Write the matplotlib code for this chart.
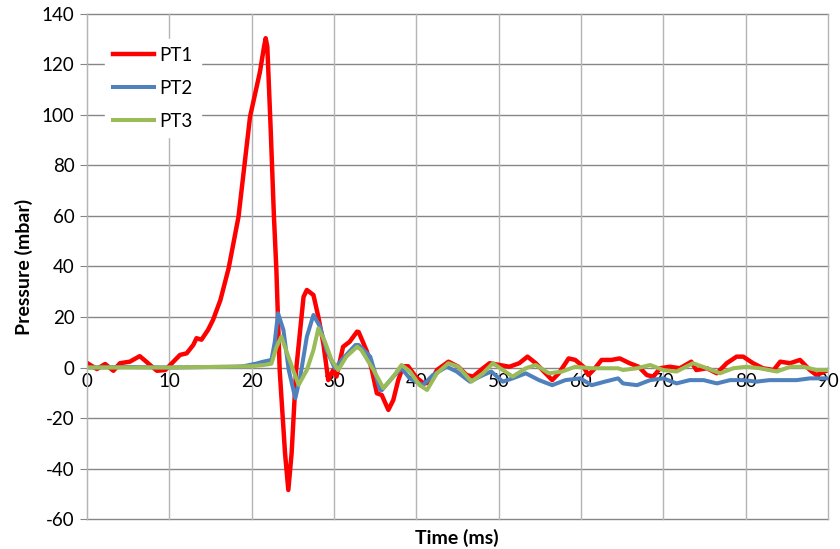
import numpy as np
import matplotlib
matplotlib.use('Agg')
import matplotlib.pyplot as plt

plt.rcParams['font.family'] = ['Lato', 'DejaVu Sans']
plt.rcParams['axes.unicode_minus'] = False

# PT1 (red) - time in ms, pressure in mbar
t1 = [0, 1.2, 2.2, 3.2, 4.0, 5.2, 6.4, 7.2, 7.9, 8.5, 9.5, 10.1, 11.3, 12.1,
      12.9, 13.3, 13.9, 14.7, 15.3, 16.2, 17.2, 18.4, 19.8, 21.0, 21.5, 21.7,
      21.9, 22.3, 22.7, 23.0, 23.4, 24.05, 24.45, 24.85, 25.4, 26.3, 26.7,
      27.5, 28.1, 28.7, 29.3, 29.9, 30.3, 31.1, 31.9, 32.8, 33.0, 34.0, 34.6,
      35.2, 35.8, 36.6, 37.2, 37.8, 38.4, 39.0, 40.0, 40.9, 41.7, 42.5, 43.9,
      45.1, 46.1, 46.9, 48.1, 48.9, 50.1, 51.3, 52.5, 53.5, 54.5, 55.7, 56.5,
      57.3, 58.5, 59.3, 60.3, 60.9, 61.7, 62.5, 63.7, 64.7, 65.9, 67.0, 68.0,
      68.8, 69.6, 70.8, 72.0, 73.4, 74.0, 75.3, 76.5, 77.7, 78.9, 79.7, 80.9,
      82.1, 83.4, 84.2, 85.4, 86.6, 87.8, 88.6, 90]
p1 = [1.8, -0.6, 1.4, -1.3, 1.7, 2.3, 4.5, 2.3, 0.3, -1.3, -1.0, 1.0, 5.0, 5.6,
      8.9, 11.6, 11.0, 14.9, 18.8, 26.7, 39.3, 59.7, 99.3, 117, 127, 130.4,
      127, 95, 60, 38.6, -1, -33.9, -48.5, -34, -1, 28, 30.7,
      28.7, 20, 9.6, -5, -1, -3.6, 8.2, 10.2, 14.2, 14, 6.3, -1,
      -10.2, -10.9, -16.8, -12.9, -5, 0.5, 0.5, -4, -6.3, -6, -1, 2.3,
      0.3, -3, -3.6, -0.3, 1.7, 1.0, 0.3, 1.7, 4.3, 1.7, -2.3, -5,
      -2.3, 3.6, 3.0, 0.3, -3, -0.3, 3, 3, 3.6, 1.7, 0.3, -3,
      -3.6, -0.3, 0.3, -0.3, 2.3, -1, -0.3, -2.3, 1.7, 4.3, 4.3, 1.7,
      -0.3, -1, 2.3, 1.7, 3, -1, -3, -1]

# PT2 (blue)
t2 = [0, 5, 10, 15, 18, 19, 20.5, 21.4, 22.4, 22.8, 23.2, 23.85, 24.5, 25.3,
      25.9, 26.7, 27.5, 28.3, 29.1, 30.1, 31.1, 32.6, 33.0, 34.4, 35.6, 35.8,
      37.2, 38.2, 39.2, 40.5, 40.8, 42.0, 43.7, 44.9, 46.5, 48.1, 49.1, 50.5,
      51.7, 53.3, 54.9, 56.5, 58.1, 59.9, 61.3, 62.9, 64.5, 65.1, 66.8, 68.4,
      70.0, 71.6, 73.2, 74.9, 76.5, 78.1, 79.7, 81.3, 82.9, 84.6, 86.2, 87.8, 90]
p2 = [0, 0.2, 0, 0.2, 0.3, 0.5, 1.5, 2.3, 3, 10, 21.5, 14.9, -1, -12.2,
      -3.6, 12.2, 20.8, 16.2, 6.9, -0.3, 3.6, 8.9, 8.9, 4.3, -8.9, -9,
      -3.6, -0.3, -4.3, -6.5, -7, -3, 0.3, -1.6, -5.6, -3, -1.6, -5.6,
      -4.3, -2.3, -5, -7, -5, -4.3, -7, -5.6, -4.3, -6.3, -7, -5,
      -4.3, -6.3, -5, -5, -6.3, -5, -5, -5.6, -5, -5, -5, -4.3, -4.3]

# PT3 (green)
t3 = [0, 10, 17, 20, 21.5, 22.4, 23.0, 23.6, 24.45, 25.7, 26.7, 27.5, 28.1,
      28.9, 29.7, 30.5, 31.5, 32.8, 33.3, 34.8, 36.0, 37.2, 38.2, 39.2, 40.4,
      41.3, 42.5, 43.9, 45.1, 46.7, 48.1, 49.3, 50.5, 51.7, 53.3, 54.5, 56.1,
      57.7, 59.3, 61.3, 62.9, 64.5, 65.1, 66.8, 68.4, 70.0, 71.6, 73.6, 75.3,
      76.9, 78.5, 80.1, 81.7, 83.8, 85.4, 87.0, 88.6, 90]
p3 = [0, 0, 0.3, 0.5, 1, 1.5, 8, 12.2, 4.3, -6.9, -1, 6.9, 15.5,
      10.2, 3, -1, 4.3, 8.2, 7, -1, -8.2, -3.6, 1, -1.5, -7,
      -8.9, -2.3, 1.7, 0.3, -5.6, -2.3, 1.7, -1, -3.6, -0.3, 1, -2.3,
      -1.6, 0.3, -0.3, -0.3, -0.3, -1, -0.3, 1, -1, -1.6, 1.7, -0.3,
      -2.3, -0.3, 0.3, -0.3, -1.6, 0.3, 0.3, -1, -1]

xticks = list(range(0, 100, 10))
yticks = list(range(-60, 160, 20))

fig = plt.figure(figsize=(8.4, 5.49), dpi=100)
ax = fig.add_axes([0.1036, 0.0546, 0.8821, 0.92])

ax.plot(t1, p1, color='#FF0000', lw=3.2, label='PT1', solid_joinstyle='round')
ax.plot(t2, p2, color='#4F81BD', lw=2.9, label='PT2', solid_joinstyle='round')
ax.plot(t3, p3, color='#9BBB59', lw=2.9, label='PT3', solid_joinstyle='round')

ax.set_xlim(0, 90)
ax.set_ylim(-60, 140)
ax.set_xticks(xticks)
ax.set_yticks(yticks)

# gridlines: horizontal darker, vertical lighter
for y in yticks:
    ax.axhline(y, color='#868686', lw=1.0, zorder=0, clip_on=False)
for x in xticks:
    ax.axvline(x, color='#B5B5B5', lw=1.0, zorder=0, clip_on=False)

for s in ['top', 'right', 'bottom']:
    ax.spines[s].set_visible(False)
ax.spines['left'].set_color('#B5B5B5')
ax.spines['bottom'].set_position(('data', 0))

ax.tick_params(axis='y', length=5, color='#868686', labelsize=13.5, pad=4)
ax.tick_params(axis='x', length=0, labelsize=13.5, pad=4)

ax.set_ylabel('Pressure (mbar)', fontsize=14, fontweight='bold', labelpad=6)
fig.text(0.544, 0.004, 'Time (ms)', ha='center', va='bottom',
         fontsize=14, fontweight='bold')

leg = ax.legend(loc='upper left', bbox_to_anchor=(0.012, 0.968), frameon=True,
                fontsize=13.5, handlelength=2.2, labelspacing=0.85,
                handletextpad=0.3, borderpad=0.4)
leg.get_frame().set_edgecolor('white')
leg.get_frame().set_facecolor('white')
leg.get_frame().set_alpha(1)
leg.set_zorder(5)

fig.savefig('out.png', dpi=100)
